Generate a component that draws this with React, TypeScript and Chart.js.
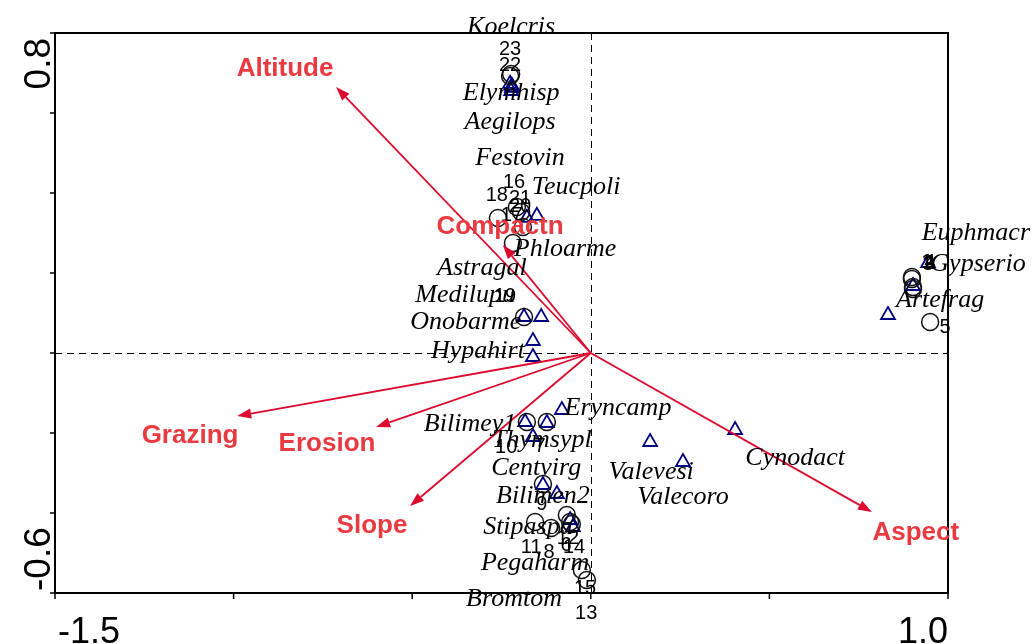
import React, { useEffect, useRef } from "react";
import { Chart, registerables } from "chart.js";

Chart.register(...registerables);

// ---- Species (triangles) ----
const speciesNames = [
  "Koelcris", "Elymhisp", "Aegilops", "Festovin", "Teucpoli", "Phloarme",
  "Astragal", "Medilupu", "Onobarme", "Hypahirt", "Bilimey1", "Thymsypl",
  "Eryncamp", "Centvirg", "Bilimen2", "Stipaspa", "Pegaharm", "Bromtom",
  "Valevesi", "Valecoro", "Cynodact", "Euphmacr", "Gypserio", "Artefrag",
];
const speciesX = [
  -0.226, -0.221, -0.223, -0.221, -0.151, -0.179,
  -0.139, -0.187, -0.162, -0.162, -0.184, -0.162,
  -0.081, -0.123, -0.095, -0.058, -0.05, -0.134,
  0.258, 0.166, 0.404, 0.944, 0.902, 0.832,
];
const speciesY = [
  0.673, 0.663, 0.655, 0.668, 0.343, 0.338,
  0.09, 0.09, 0.03, -0.01, -0.1725, -0.21,
  -0.1425, -0.175, -0.3525, -0.4175, -0.435, -0.33,
  -0.2725, -0.2225, -0.1925, 0.225, 0.1675, 0.095,
];
const speciesLabelX = [
  -0.223, -0.223, -0.226, -0.198, -0.041, -0.072,
  -0.305, -0.352, -0.35, -0.316, -0.338, -0.137,
  0.076, -0.153, -0.134, -0.176, -0.156, -0.215,
  0.169, 0.258, 0.572, 1.078, 1.084, 0.978,
];
const speciesLabelY = [
  0.815, 0.65, 0.5775, 0.4875, 0.415, 0.26,
  0.2125, 0.145, 0.0775, 0.005, -0.1775, -0.2175,
  -0.1375, -0.2875, -0.3575, -0.435, -0.525, -0.615,
  -0.2975, -0.36, -0.2625, 0.3, 0.2225, 0.1325,
];

// ---- Sites (circles) ----
const siteNames = [
  "1", "2", "3", "4", "5", "6", "7", "8", "9", "10", "11", "12",
  "13", "14", "15", "16", "17", "18", "19", "20", "21", "22", "23",
];
const siteX = [
  0.899, 0.899, 0.902, 0.902, 0.95, -0.067, -0.123, -0.111, -0.134, -0.179, -0.156, -0.058,
  -0.011, -0.053, -0.025, -0.207, -0.19, -0.26, -0.187, -0.218, -0.195, -0.226, -0.223,
];
const siteY = [
  0.19, 0.185, 0.165, 0.16, 0.0775, -0.405, -0.1725, -0.4375, -0.3275, -0.1725, -0.4225, -0.4225,
  -0.5675, -0.4275, -0.5425, 0.365, 0.315, 0.3375, 0.09, 0.275, 0.3525, 0.6925, 0.6975,
];
const siteLabelX = [
  0.941, 0.947, 0.944, 0.949, 0.992, -0.069, -0.142, -0.117, -0.137, -0.237, -0.167, -0.064,
  -0.013, -0.047, -0.016, -0.215, -0.221, -0.263, -0.24, -0.198, -0.198, -0.226, -0.226,
];
const siteLabelY = [
  0.2275, 0.225, 0.2225, 0.2275, 0.065, -0.48, -0.2325, -0.4975, -0.3775, -0.235, -0.485, -0.4625,
  -0.65, -0.485, -0.5875, 0.4275, 0.345, 0.395, 0.1425, 0.3675, 0.3875, 0.72, 0.76,
];

// ---- Environmental variables (arrows) ----
const envNames = ["Altitude", "Compactn", "Grazing", "Erosion", "Slope", "Aspect"];
const envX = [-0.713, -0.246, -0.99, -0.601, -0.506, 0.787];
const envY = [0.665, 0.27, -0.1575, -0.185, -0.3825, -0.3975];
const envLabelX = [-0.856, -0.254, -1.122, -0.7385, -0.6125, 0.91];
const envLabelY = [0.71, 0.315, -0.2075, -0.2275, -0.4325, -0.45];

// ---- Axes ----
const xMin = -1.5;
const xMax = 1.0;
const yMin = -0.6;
const yMax = 0.8;
const xTickValues = [-1.5, -1.0, -0.5, 0, 0.5, 1.0];
const yTickValues = [-0.6, -0.4, -0.2, 0, 0.2, 0.4, 0.6, 0.8];
const xEndLabels = ["-1.5", "1.0"];
const yEndLabels = ["-0.6", "0.8"];

const ARROW_COLOR = "#DC0A2D";
const ENV_LABEL_COLOR = "#E83A40";
const TRI_COLOR = "#000080";

const overlay = {
  id: "overlay",
  beforeDatasetsDraw(chart: any) {
    const { ctx, chartArea: a, scales } = chart;
    const xs = scales.x;
    const ys = scales.y;
    ctx.save();
    ctx.strokeStyle = "#000";
    ctx.lineWidth = 1;
    ctx.setLineDash([7, 5]);
    const x0 = Math.round(xs.getPixelForValue(0)) + 0.5;
    const y0 = Math.round(ys.getPixelForValue(0)) + 0.5;
    ctx.beginPath();
    ctx.moveTo(x0, a.top);
    ctx.lineTo(x0, a.bottom);
    ctx.moveTo(a.left, y0);
    ctx.lineTo(a.right, y0);
    ctx.stroke();
    ctx.restore();
  },
  afterDatasetsDraw(chart: any) {
    const { ctx, chartArea: a, scales } = chart;
    const xs = scales.x;
    const ys = scales.y;
    ctx.save();

    // arrows
    const ox = xs.getPixelForValue(0);
    const oy = ys.getPixelForValue(0);
    ctx.strokeStyle = ARROW_COLOR;
    ctx.fillStyle = ARROW_COLOR;
    ctx.lineWidth = 1.8;
    for (let i = 0; i < envNames.length; i++) {
      const tx = xs.getPixelForValue(envX[i]);
      const ty = ys.getPixelForValue(envY[i]);
      const ang = Math.atan2(ty - oy, tx - ox);
      const hl = 14;
      const hw = 5;
      const bx = tx - Math.cos(ang) * hl;
      const by = ty - Math.sin(ang) * hl;
      ctx.beginPath();
      ctx.moveTo(ox, oy);
      ctx.lineTo(bx, by);
      ctx.stroke();
      ctx.beginPath();
      ctx.moveTo(tx, ty);
      ctx.lineTo(bx - Math.sin(ang) * hw, by + Math.cos(ang) * hw);
      ctx.lineTo(bx + Math.sin(ang) * hw, by - Math.cos(ang) * hw);
      ctx.closePath();
      ctx.fill();
    }

    // frame
    ctx.strokeStyle = "#000";
    ctx.lineWidth = 2;
    ctx.strokeRect(a.left, a.top, a.right - a.left, a.bottom - a.top);
    ctx.lineWidth = 1.5;
    ctx.beginPath();
    for (const v of yTickValues) {
      const p = ys.getPixelForValue(v);
      ctx.moveTo(a.left - 5, p);
      ctx.lineTo(a.left, p);
    }
    for (const v of xTickValues) {
      const p = xs.getPixelForValue(v);
      ctx.moveTo(p, a.bottom);
      ctx.lineTo(p, a.bottom + 6);
    }
    ctx.stroke();

    // axis end labels
    ctx.fillStyle = "#000";
    ctx.font = "36px 'Liberation Sans', Arial, sans-serif";
    ctx.textBaseline = "alphabetic";
    ctx.textAlign = "left";
    ctx.fillText(xEndLabels[0], xs.getPixelForValue(xMin) + 3, 643);
    ctx.textAlign = "right";
    ctx.fillText(xEndLabels[1], xs.getPixelForValue(xMax), 643);

    ctx.font = "37px 'Liberation Sans', Arial, sans-serif";
    ctx.save();
    ctx.translate(50, ys.getPixelForValue(yMin) - 2);
    ctx.rotate(-Math.PI / 2);
    ctx.textAlign = "left";
    ctx.fillText(yEndLabels[0], 0, 0);
    ctx.restore();
    ctx.save();
    ctx.translate(50, ys.getPixelForValue(yMax) + 5);
    ctx.rotate(-Math.PI / 2);
    ctx.textAlign = "right";
    ctx.fillText(yEndLabels[1], 0, 0);
    ctx.restore();

    // site labels
    ctx.textAlign = "center";
    ctx.textBaseline = "middle";
    ctx.font = "20px 'Liberation Sans', Arial, sans-serif";
    for (let i = 0; i < siteNames.length; i++) {
      ctx.fillText(siteNames[i], xs.getPixelForValue(siteLabelX[i]), ys.getPixelForValue(siteLabelY[i]));
    }

    // species labels
    ctx.font = "italic 26px 'Liberation Serif', 'Times New Roman', serif";
    for (let i = 0; i < speciesNames.length; i++) {
      ctx.fillText(speciesNames[i], xs.getPixelForValue(speciesLabelX[i]), ys.getPixelForValue(speciesLabelY[i]));
    }

    // env labels
    ctx.fillStyle = ENV_LABEL_COLOR;
    ctx.font = "bold 26px 'Liberation Sans', Arial, sans-serif";
    for (let i = 0; i < envNames.length; i++) {
      ctx.fillText(envNames[i], xs.getPixelForValue(envLabelX[i]), ys.getPixelForValue(envLabelY[i]));
    }

    ctx.restore();
  },
};

export default function App() {
  const ref = useRef<HTMLCanvasElement | null>(null);
  useEffect(() => {
    if (!ref.current) return;
    const chart = new Chart(ref.current, {
      type: "scatter",
      data: {
        datasets: [
          {
            label: "Sites",
            data: siteX.map((x, i) => ({ x, y: siteY[i] })),
            pointStyle: "circle",
            pointRadius: 8.5,
            pointBorderWidth: 1.5,
            pointBorderColor: "#111",
            pointBackgroundColor: "rgba(0,0,0,0)",
          },
          {
            label: "Species",
            data: speciesX.map((x, i) => ({ x, y: speciesY[i] })),
            pointStyle: "triangle",
            pointRadius: 8,
            pointBorderWidth: 1.8,
            pointBorderColor: TRI_COLOR,
            pointBackgroundColor: "rgba(0,0,0,0)",
          },
        ],
      },
      options: {
        responsive: false,
        animation: false,
        events: [],
        layout: { padding: { left: 55, top: 33, right: 84, bottom: 51 } },
        plugins: { legend: { display: false }, tooltip: { enabled: false } },
        scales: {
          x: { type: "linear", min: xMin, max: xMax, display: false },
          y: { type: "linear", min: yMin, max: yMax, display: false },
        },
      },
      plugins: [overlay],
    });
    return () => chart.destroy();
  }, []);
  return (
    <canvas
      ref={ref}
      width={1032}
      height={644}
      style={{ position: "absolute", left: 0, top: 0, width: 1032, height: 644, background: "#fff" }}
    />
  );
}
